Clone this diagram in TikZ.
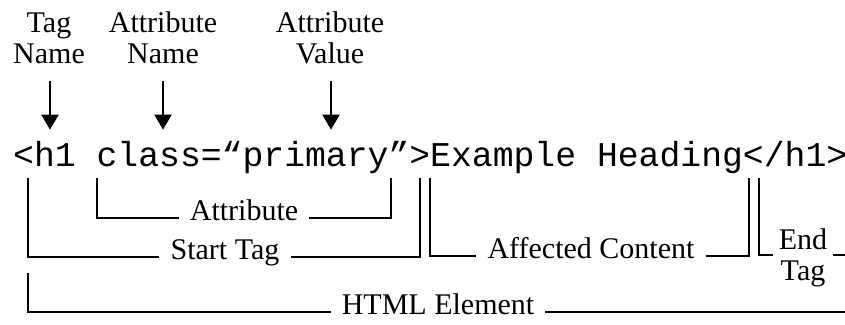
\documentclass[tikz,border=0pt]{standalone}
\usepackage{fontspec}
\setmainfont{Liberation Serif}
\setmonofont{Liberation Mono}
\usetikzlibrary{arrows.meta}
\tikzset{
  toplbl/.style={font=\fontsize{30pt}{31pt}\selectfont, align=center, inner sep=0pt},
  brlbl/.style={font=\fontsize{30pt}{31pt}\selectfont, anchor=mid, inner xsep=11pt, inner ysep=0pt},
  bracket/.style={line width=2.5pt},
  pointer/.style={line width=2.5pt, -{Triangle[width=17pt,length=15pt]}}
}
\begin{document}
\begin{tikzpicture}[x=1pt, y=-1pt]
    \useasboundingbox (0,0) rectangle (845,324);

    % Code line
    \node[anchor=base west, inner sep=0pt, font=\ttfamily\fontsize{34.75pt}{40pt}\selectfont]
        (code) at (13,166) {<h1 class=“primary”>Example Heading</h1>};

    % Labels above
    \node[toplbl] (tagname) at (49,38) {Tag\\Name};
    \node[toplbl] (attrname) at (163,38) {Attribute\\Name};
    \node[toplbl] (attrval) at (330,38) {Attribute\\Value};

    \draw[pointer, shorten <=17pt, shorten >=11pt] ([xshift=1pt]tagname.south) -- ([xshift=1pt]tagname.south |- code.north);
    \draw[pointer, shorten <=17pt, shorten >=11pt] (attrname.south) -- (attrname.south |- code.north);
    \draw[pointer, shorten <=17pt, shorten >=11pt] ([xshift=1pt]attrval.south) -- ([xshift=1pt]attrval.south |- code.north);

    % Attribute
    \coordinate (attrL) at (97,178);
    \coordinate (attrR) at (391,178);
    \node[brlbl] (attr) at (244,218) {Attribute};
    \draw[bracket] (attrL) |- (attr.mid west);
    \draw[bracket] (attr.mid east) -| (attrR);

    % Start Tag
    \coordinate (startL) at (28,178);
    \coordinate (startR) at (420,178);
    \node[brlbl] (start) at (225,257) {Start Tag};
    \draw[bracket] (startL) |- (start.mid west);
    \draw[bracket] (start.mid east) -| (startR);

    % Affected Content
    \coordinate (contL) at (430,178);
    \coordinate (contR) at (749,178);
    \node[brlbl] (cont) at (591,256) {Affected Content};
    \draw[bracket] (contL) |- (cont.mid west);
    \draw[bracket] (cont.mid east) -| (contR);

    % End Tag
    \coordinate (endL) at (759,178);
    \coordinate (endR) at (850,255);
    \node[toplbl, inner xsep=6pt] (endtag) at (803,258) {End\\Tag};
    \draw[bracket] (endL) |- (endtag.west |- endR);
    \draw[bracket] (endtag.east |- endR) -- (endR);

    % HTML Element
    \coordinate (htmlL) at (28,273);
    \coordinate (htmlR) at (850,312);
    \node[brlbl] (html) at (438,312) {HTML Element};
    \draw[bracket] (htmlL) |- (html.mid west);
    \draw[bracket] (html.mid east) -- (htmlR);
\end{tikzpicture}
\end{document}
